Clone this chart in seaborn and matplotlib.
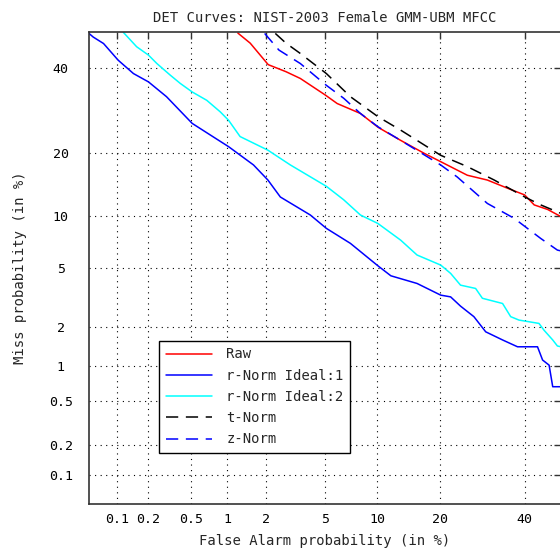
import numpy as np
import pandas as pd
import matplotlib
matplotlib.use("Agg")
import matplotlib.pyplot as plt
import matplotlib.lines as mlines
import seaborn as sns
from statistics import NormalDist

# DET points, in percent (false alarm, miss)
raw_fa   = [1.22, 1.52, 2.07, 2.77, 3.47, 5.04, 5.95, 8.12, 10.15, 13.2, 17.0, 20.1,
            25.7, 30.4, 35.5, 40.0, 42.6, 46.3, 50.0]
raw_miss = [49.7, 46.9, 41.0, 39.1, 37.3, 33.0, 30.9, 28.5, 25.3, 22.5, 19.9, 18.3,
            15.9, 15.1, 13.8, 12.8, 11.4, 10.8, 9.9]

rn1_fa   = [0.05, 0.056, 0.072, 0.102, 0.145, 0.203, 0.30, 0.51, 0.775, 1.03, 1.61, 2.06,
            2.53, 4.04, 5.11, 7.12, 10.1, 11.8, 15.8, 20.1, 22.1, 24.2, 27.2, 30.0,
            34.2, 38.1, 43.5, 44.9, 46.7, 47.7, 50.0]
rn1_miss = [49.7, 48.6, 46.8, 42.2, 38.6, 36.4, 32.6, 26.2, 23.2, 21.2, 17.7, 15.1,
            12.5, 10.1, 8.55, 7.03, 5.16, 4.46, 3.98, 3.33, 3.24, 2.80, 2.36, 1.83,
            1.59, 1.41, 1.41, 1.11, 1.01, 0.67, 0.67]

rn2_fa   = [0.115, 0.156, 0.203, 0.244, 0.324, 0.40, 0.51, 0.68, 0.88, 1.03, 1.27, 2.06,
            2.97, 5.11, 6.51, 8.12, 10.1, 13.2, 15.8, 20.1, 22.1, 24.2, 27.6, 29.2,
            34.2, 36.3, 38.5, 43.9, 45.3, 47.7, 49.0, 50.0]
rn2_miss = [49.9, 45.9, 43.6, 41.3, 38.2, 36.0, 33.8, 31.7, 28.9, 26.9, 23.3, 20.5,
            17.7, 14.1, 12.1, 10.1, 9.10, 7.34, 6.0, 5.21, 4.62, 3.88, 3.69, 3.17,
            2.92, 2.36, 2.23, 2.11, 1.88, 1.59, 1.43, 1.41]

tn_fa    = [2.33, 2.77, 3.47, 5.11, 7.12, 10.15, 13.2, 20.1, 25.7, 32.1, 40.05, 44.4, 50.0]
tn_miss  = [49.6, 46.9, 44.05, 38.6, 32.6, 27.7, 24.7, 19.5, 17.4, 15.1, 12.5, 11.4, 10.3]

zn_fa    = [1.95, 2.47, 3.47, 5.11, 6.51, 8.12, 10.15, 13.2, 20.1, 23.5, 30.4, 37.2,
            44.4, 49.0, 50.0]
zn_miss  = [49.6, 45.0, 41.3, 35.5, 32.2, 28.5, 25.4, 22.5, 17.7, 15.6, 11.6, 9.7,
            7.5, 6.42, 6.35]

systems = ["Raw", "r-Norm Ideal:1", "r-Norm Ideal:2", "t-Norm", "z-Norm"]
ticks = [0.1, 0.2, 0.5, 1, 2, 5, 10, 20, 40]
tick_labels = ["0.1", "0.2", "0.5", "1", "2", "5", "10", "20", "40"]

COLORS = {"Raw": "#ff0000", "r-Norm Ideal:1": "#0000ff", "r-Norm Ideal:2": "#00ffff",
          "t-Norm": "#000000", "z-Norm": "#0000ff"}
DASHES = {"Raw": "", "r-Norm Ideal:1": "", "r-Norm Ideal:2": "",
          "t-Norm": (8, 5), "z-Norm": (8, 5)}

_nd = NormalDist()
_inv = np.vectorize(_nd.inv_cdf, otypes=[float])
_cdf = np.vectorize(_nd.cdf, otypes=[float])


def probit(p):
    p = np.clip(np.asarray(p, dtype=float) / 100.0, 1e-9, 1 - 1e-9)
    return _inv(p)


def inv_probit(z):
    return _cdf(np.asarray(z, dtype=float)) * 100.0


pairs = [(raw_fa, raw_miss), (rn1_fa, rn1_miss), (rn2_fa, rn2_miss),
         (tn_fa, tn_miss), (zn_fa, zn_miss)]
df = pd.concat([pd.DataFrame({"fa": fa, "miss": ms, "system": name})
                for name, (fa, ms) in zip(systems, pairs)], ignore_index=True)

sns.set_style("white")
plt.rcParams["font.family"] = ["DejaVu Sans Mono", "DejaVu Sans"]

fig = plt.figure(figsize=(5.6, 5.49), dpi=100)
ax = fig.add_axes([88.6 / 560, 45 / 549, 472.4 / 560, 472 / 549])

sns.lineplot(data=df, x="fa", y="miss", hue="system", style="system",
             hue_order=systems, style_order=systems, palette=COLORS, dashes=DASHES,
             sort=False, estimator=None, lw=1.1, ax=ax, legend=False)

ax.set_xscale("function", functions=(probit, inv_probit))
ax.set_yscale("function", functions=(probit, inv_probit))
ax.set_xlim(0.05, 50)
ax.set_ylim(0.05, 50)
ax.set_xticks(ticks)
ax.set_xticklabels(tick_labels)
ax.set_yticks(ticks)
ax.set_yticklabels(tick_labels)
ax.minorticks_off()

ax.grid(True, color="black", linestyle=(0, (1, 4)), lw=0.8)
ax.tick_params(direction="in", length=5, width=1, top=True, right=True,
               labelsize=9.5, colors="#333333", labelcolor="black")
ax.tick_params(axis="x", pad=6.5)
ax.tick_params(axis="y", pad=20)
plt.setp(ax.get_yticklabels(), ha="center")

for s in ax.spines.values():
    s.set_color("#333333")
    s.set_linewidth(1.2)

ax.set_title("DET Curves: NIST-2003 Female GMM-UBM MFCC", fontsize=10, pad=7)
ax.set_xlabel("False Alarm probability (in %)", fontsize=10)
ax.set_ylabel("Miss probability (in %)", fontsize=10)
ax.xaxis.set_label_coords(0.5, -0.063)
ax.yaxis.set_label_coords(-0.130, 0.5)

handles = []
for name in systems:
    kw = {"dashes": DASHES[name]} if DASHES[name] else {}
    handles.append(mlines.Line2D([], [], color=COLORS[name], lw=1.1, **kw))
leg = ax.legend(handles, systems, loc="lower left", bbox_to_anchor=(0.150, 0.1074),
                borderaxespad=0, frameon=True, fancybox=False, edgecolor="black",
                framealpha=1, handlelength=3.3, handletextpad=1.0,
                labelspacing=0.52, borderpad=0.5, fontsize=10)
leg.get_frame().set_linewidth(1.0)

fig.savefig("out.png", dpi=100, facecolor="white")
